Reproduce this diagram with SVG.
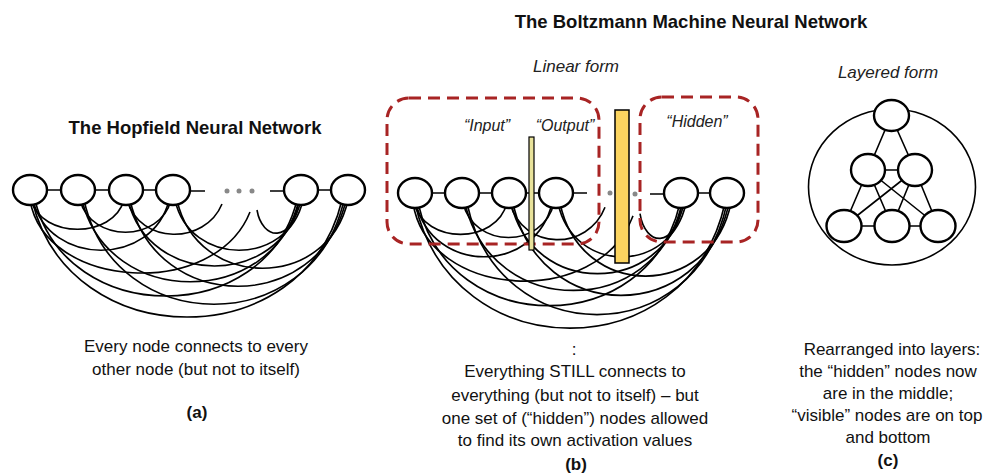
<svg xmlns="http://www.w3.org/2000/svg" xmlns:xlink="http://www.w3.org/1999/xlink" width="992" height="474" viewBox="0 0 992 474">
<style>
  .node { fill: #fff; stroke: #000; stroke-width: 2.4; }
  .arc { fill: none; stroke: #000; stroke-width: 1.6; }
  .link { fill: none; stroke: #000; stroke-width: 1.6; }
  .dot { fill: #888; }
  .box { fill: none; stroke: #a82424; stroke-width: 3; stroke-dasharray: 12 7; }
  .title { font-family: "Liberation Sans", Arial, sans-serif; font-weight: bold; font-size: 18.5px; fill: #111; text-anchor: middle; }
  .sub { font-family: "Liberation Sans", Arial, sans-serif; font-style: italic; font-size: 17px; fill: #222; text-anchor: middle; }
  .lbl { font-family: "Liberation Sans", Arial, sans-serif; font-style: italic; font-size: 16px; fill: #222; text-anchor: middle; }
  .cap { font-family: "Liberation Sans", Arial, sans-serif; font-size: 17px; fill: #111; text-anchor: middle; }
  .tag { font-family: "Liberation Sans", Arial, sans-serif; font-weight: bold; font-size: 17px; fill: #111; text-anchor: middle; }
</style>
<defs>
  <g id="arcset">
    <path class="arc" d="M31 200 C42 239 113 239 124 200"/>
    <path class="arc" d="M33 200 C49 267 153 267 169 200"/>
    <path class="arc" d="M80 200 C91 243 160 243 171 200"/>
    <path class="arc" d="M35 200 C66 328 266 328 297 200"/>
    <path class="arc" d="M32 200 C69 356 305 356 342 200"/>
    <path class="arc" d="M82 200 C108 309 273 309 299 200"/>
    <path class="arc" d="M84 200 C115 339 313 339 344 200"/>
    <path class="arc" d="M128 200 C149 288 280 288 301 200"/>
    <path class="arc" d="M130 200 C156 315 320 315 346 200"/>
    <path class="arc" d="M175 200 C190 267 288 267 303 200"/>
    <path class="arc" d="M177 200 C197 291 328 291 348 200"/>
    <path class="arc" d="M30 200 C45 290 215 300 250 212"/>
    <path class="arc" d="M127 200 C140 245 205 245 222 204"/>
    <path class="arc" d="M257 210 C262 240 292 245 299 200"/>
  </g>
</defs>

<!-- Titles -->
<text class="title" x="691" y="28">The Boltzmann Machine Neural Network</text>
<text class="title" x="195" y="134">The Hopfield Neural Network</text>
<text class="sub" x="576" y="72">Linear form</text>
<text class="sub" x="888" y="78">Layered form</text>

<!-- (a) connectors -->
<g id="connectors-a">
  <use xlink:href="#arcset" href="#arcset"/>
  <path class="link" d="M46 190 H62 M95 190 H110 M143 190 H156 M190 191 H205 M270 191 H284 M318 190 H331"/>
  <circle class="dot" cx="227" cy="191" r="2.5"/>
  <circle class="dot" cx="239" cy="191" r="2.5"/>
  <circle class="dot" cx="252" cy="191" r="2.5"/>
</g>
<g id="a-n1"><ellipse class="node" cx="30" cy="190" rx="17" ry="15"/></g>
<g id="a-n2"><ellipse class="node" cx="78" cy="190" rx="17" ry="15"/></g>
<g id="a-n3"><ellipse class="node" cx="126" cy="190" rx="17" ry="15"/></g>
<g id="a-n4"><ellipse class="node" cx="173" cy="190" rx="17" ry="15"/></g>
<g id="a-n5"><ellipse class="node" cx="301" cy="190" rx="17" ry="15"/></g>
<g id="a-n6"><ellipse class="node" cx="348" cy="190" rx="17" ry="15"/></g>

<!-- (b) connectors -->
<g id="connectors-b">
  <use xlink:href="#arcset" href="#arcset" transform="matrix(1 0 0 1.07 383 -11)"/>
  <path class="link" d="M432 193 H446 M479 193 H492 M526 193 H539 M573 193 H587 M650 194 H664 M698 193 H710"/>
  <circle class="dot" cx="610" cy="193" r="2.5"/>
  <circle class="dot" cx="622" cy="193" r="2.5"/>
  <circle class="dot" cx="635" cy="194" r="2.5"/>
</g>
<g id="b-n1"><ellipse class="node" cx="415" cy="193" rx="17" ry="15"/></g>
<g id="b-n2"><ellipse class="node" cx="462" cy="193" rx="17" ry="15"/></g>
<g id="b-n3"><ellipse class="node" cx="509" cy="193" rx="17" ry="15"/></g>
<g id="b-n4"><ellipse class="node" cx="556" cy="193" rx="17" ry="15"/></g>
<g id="b-n5"><ellipse class="node" cx="681" cy="193" rx="17" ry="15"/></g>
<g id="b-n6"><ellipse class="node" cx="727" cy="193" rx="17" ry="15"/></g>

<g id="box-visible"><rect class="box" x="387" y="98" width="212" height="146" rx="22"/></g>
<g id="box-hidden"><rect class="box" x="640" y="97" width="118" height="145" rx="22"/></g>
<g id="bar-thin"><rect x="529" y="137" width="5" height="113" fill="#e8e29a" stroke="#000" stroke-width="1.2"/></g>
<g id="bar-thick"><rect x="615" y="110" width="14" height="153" fill="#fbd460" stroke="#000" stroke-width="1.5"/></g>

<text class="lbl" x="487" y="131">“Input”</text>
<text class="lbl" x="565" y="131">“Output”</text>
<text class="lbl" x="697" y="127">“Hidden”</text>

<!-- (c) layered -->
<g id="connectors-c">
  <ellipse cx="892" cy="187" rx="83.5" ry="78" fill="none" stroke="#000" stroke-width="1.6"/>
  <path class="link" d="M891 116 L868 170 M891 116 L915 170 M868 170 L915 170 M868 170 L844 226 M868 170 L892 226 M868 170 L938 226 M915 170 L844 226 M915 170 L892 226 M915 170 L938 226 M844 226 L938 226"/>
</g>
<g id="c-top"><ellipse class="node" cx="891.5" cy="115.5" rx="17.5" ry="15.5"/></g>
<g id="c-mid1"><ellipse class="node" cx="868" cy="170" rx="17" ry="16"/></g>
<g id="c-mid2"><ellipse class="node" cx="915" cy="170" rx="17" ry="16"/></g>
<g id="c-bot1"><ellipse class="node" cx="844" cy="226" rx="17.5" ry="16"/></g>
<g id="c-bot2"><ellipse class="node" cx="892" cy="226" rx="17.5" ry="16"/></g>
<g id="c-bot3"><ellipse class="node" cx="938" cy="226" rx="17.5" ry="16"/></g>

<!-- Captions -->
<text class="cap" x="196" y="352">Every node connects to every</text>
<text class="cap" x="196" y="375">other node (but not to itself)</text>
<text class="tag" x="197" y="418">(a)</text>

<text class="cap" x="574" y="355">:</text>
<text class="cap" x="575" y="377">Everything STILL connects to</text>
<text class="cap" x="575" y="401">everything (but not to itself) – but</text>
<text class="cap" x="575" y="424">one set of (“hidden”) nodes allowed</text>
<text class="cap" x="575" y="446">to find its own activation values</text>
<text class="tag" x="576" y="470">(b)</text>

<text class="cap" x="892" y="355">Rearranged into layers:</text>
<text class="cap" x="888" y="377">the “hidden” nodes now</text>
<text class="cap" x="888" y="399">are in the middle;</text>
<text class="cap" x="887" y="421">“visible” nodes are on top</text>
<text class="cap" x="888" y="443">and bottom</text>
<text class="tag" x="888" y="466">(c)</text>
</svg>
